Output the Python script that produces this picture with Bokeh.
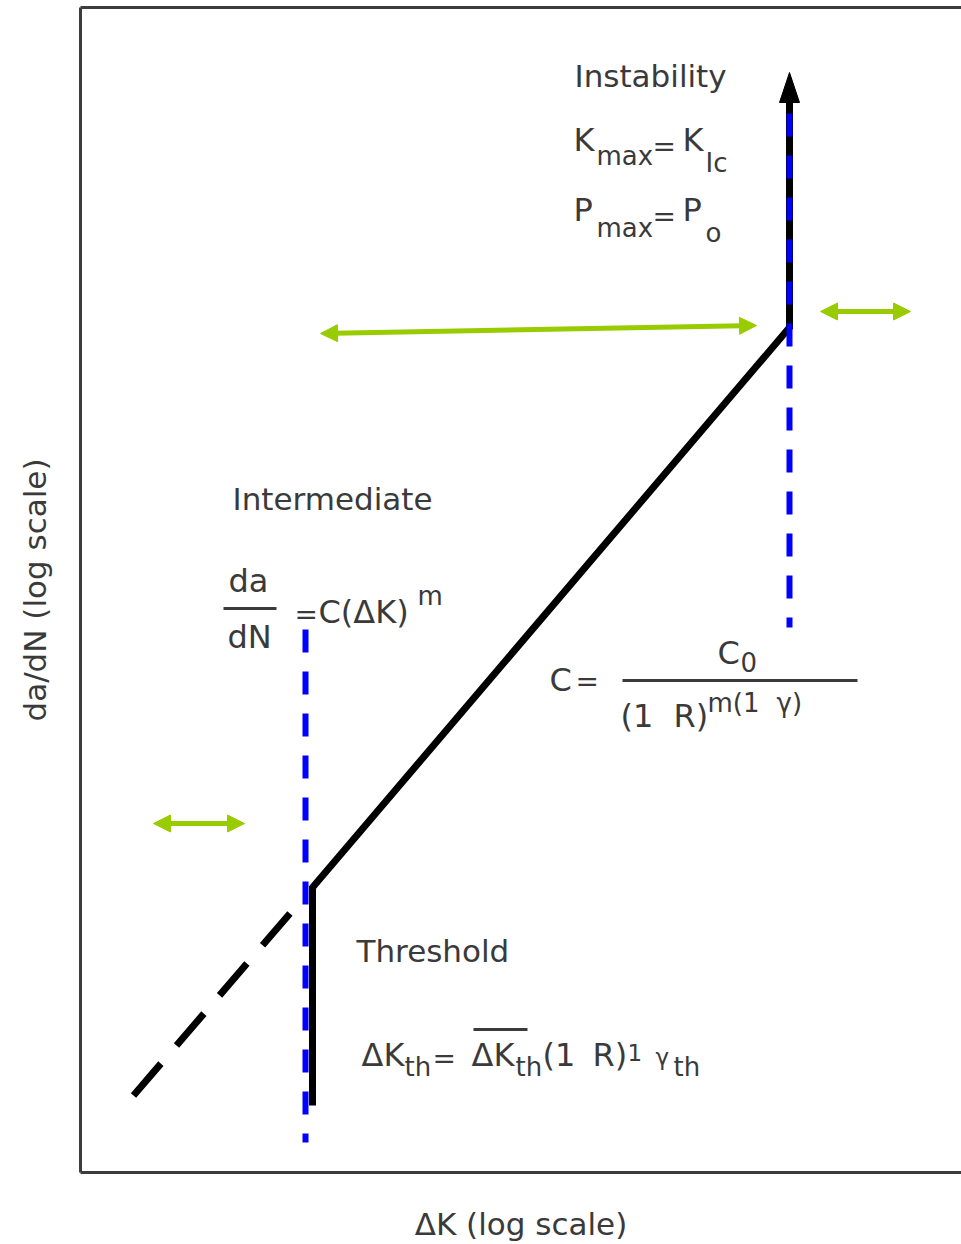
from bokeh.plotting import figure
from bokeh.models import (Range1d, LinearAxis, FixedTicker, ColumnDataSource,
                          Arrow, NormalHead)
from bokeh.embed import file_html
from bokeh.resources import INLINE
from bokeh.core.properties import value

# ---------------- data (schematic log-log coordinates, plot units) ----------------
# crack growth curve: threshold branch, Paris (intermediate) branch, instability branch
curve_dk = [312, 312, 789, 789]
curve_dadn = [1105, 887, 327, 102]
# dashed extrapolation below threshold
extrap_dk = [133, 292]
extrap_dadn = [1095, 910]
# instability arrow tip
tip_dk = [789]
tip_dadn = [72]
# blue dashed limits (ΔK_th and K_Ic)
limit_dk = [305, 789]
limit_top = [629, 113]
limit_bot = [1142, 627]
# green double arrows (shift of the limits with R)
shift_x0 = [320, 820, 153]
shift_y0 = [333, 311, 823]
shift_x1 = [756, 910, 244]
shift_y1 = [325, 311, 823]

# ---------------- texts (anchor = left end of the baseline) ----------------
headings = ["Instability", "Intermediate", "Threshold"]
heading_x = [574, 232, 356]
heading_y = [88, 511, 963]

main_txt = ["K", "K", "P", "P",
            "da", "dN", "C(ΔK)",
            "C", "C", "(1", "R)",
            "ΔK", "ΔK", "(1", "R)"]
main_x = [573, 682, 573, 682,
          228, 227, 318,
          549, 717, 620, 673,
          361, 471, 542, 592]
main_y = [152, 152, 222, 222,
          593, 649, 624,
          692, 665, 728, 728,
          1067, 1067, 1067, 1067]

eq_x = [652, 652, 294, 575, 432]
eq_y = [157, 227, 625, 692, 1069]

sub_txt = ["max", "Ic", "max", "o", "m", "0", "m(1", "γ)", "th", "th", "th"]
sub_x = [596, 705, 596, 705, 417, 740, 707, 776, 404, 515, 673]
sub_y = [166, 173, 238, 243, 606, 672, 713, 713, 1077, 1077, 1077]

small_txt = ["1", "γ"]
small_x = [627, 655]
small_y = [1061, 1065]

bar_x0 = [223, 622, 473]
bar_x1 = [276, 857, 527]
bar_y = [608, 680, 1029]

x_label = "ΔK (log scale)"
y_label = "da/dN (log scale)"

# ---------------- figure ----------------
FONT = "DejaVu Sans"
TXT = "#3a3a3a"
GREEN = "#99cc00"
BASE_SHIFT = 0.39  # em, to place the alphabetic baseline

p = figure(width=961, height=1244,
           x_range=Range1d(80, 961), y_range=Range1d(1172, 7),
           x_axis_type=None, y_axis_type=None,
           output_backend="svg", toolbar_location=None,
           min_border_left=80, min_border_right=0,
           min_border_top=7, min_border_bottom=72)
p.outline_line_color = None
p.background_fill_color = "white"
p.border_fill_color = "white"


def make_axis(label, standoff):
    ax = LinearAxis(ticker=FixedTicker(ticks=[]), axis_label=label)
    ax.axis_line_color = "#3c3c3c"
    ax.axis_line_width = 3
    ax.major_tick_line_color = None
    ax.minor_tick_line_color = None
    ax.major_tick_in = 0
    ax.major_tick_out = 0
    ax.minor_tick_in = 0
    ax.minor_tick_out = 0
    ax.major_label_standoff = 0
    ax.axis_label_standoff = standoff
    ax.axis_label_text_font = FONT
    ax.axis_label_text_font_size = "31px"
    ax.axis_label_text_font_style = "normal"
    ax.axis_label_text_color = TXT
    return ax


p.add_layout(make_axis(y_label, 28), "left")
p.add_layout(make_axis(x_label, 33), "below")
p.add_layout(make_axis(None, 0), "above")

# dashed extrapolation
p.line(extrap_dk, extrap_dadn, line_color="black", line_width=7,
       line_dash="42 24")
# main curve
p.line(curve_dk, curve_dadn, line_color="black", line_width=7,
       line_join="miter")
# arrow head (instability)
head_half = 10
head_len = 30
p.patch([tip_dk[0] - head_half, tip_dk[0], tip_dk[0] + head_half],
        [tip_dadn[0] + head_len, tip_dadn[0], tip_dadn[0] + head_len],
        fill_color="black", line_color="black", line_width=1)

# blue dashed limits
p.segment(x0=limit_dk, y0=limit_top, x1=limit_dk, y1=limit_bot,
          line_color="#0000ff", line_width=6, line_dash="23 19")

# green double arrows
src = ColumnDataSource(dict(x0=shift_x0, y0=shift_y0, x1=shift_x1, y1=shift_y1))
p.add_layout(Arrow(x_start="x0", y_start="y0", x_end="x1", y_end="y1", source=src,
                   line_color=GREEN, line_width=5,
                   start=NormalHead(size=17, fill_color=GREEN, line_color=GREEN, line_width=1),
                   end=NormalHead(size=17, fill_color=GREEN, line_color=GREEN, line_width=1)))

# fraction bars / overline
p.segment(x0=bar_x0, y0=bar_y, x1=bar_x1, y1=bar_y, line_color=TXT, line_width=3)


def put_text(xs, ys, texts, size):
    shift = BASE_SHIFT * size
    p.text(x=xs, y=[y - shift for y in ys], text=texts, text_font=value(FONT),
           text_font_size=f"{size}px", text_color=TXT,
           text_baseline="alphabetic", text_align="left")


put_text(heading_x, heading_y, headings, 31)
put_text(main_x, main_y, main_txt, 32)
put_text(eq_x, eq_y, ["="] * len(eq_x), 28)
put_text(sub_x, sub_y, sub_txt, 26)
put_text(small_x, small_y, small_txt, 23)

open("out.html", "w").write(file_html(p, INLINE))
